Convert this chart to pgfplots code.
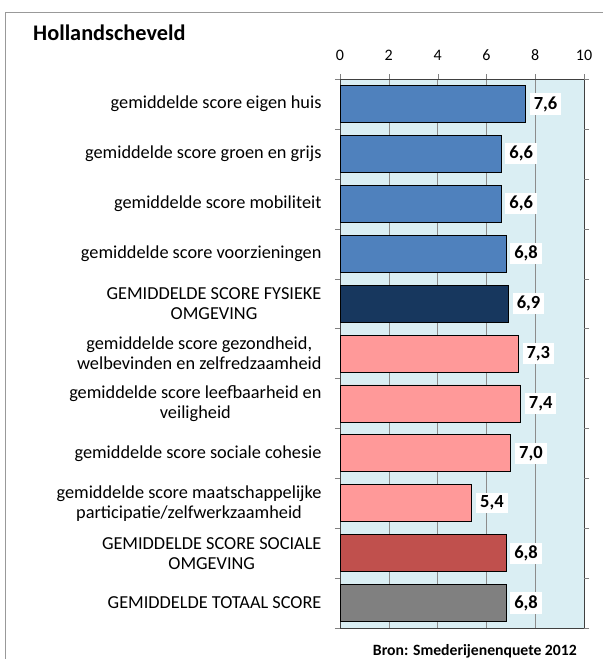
\documentclass[border=0pt]{standalone}
\usepackage{pgfplots}
\pgfplotsset{compat=1.18}
\usepackage{fontspec}
\setmainfont{Carlito}
\definecolor{bgblue}{HTML}{DAEEF3}
\definecolor{cblue}{HTML}{4F81BD}
\definecolor{cnavy}{HTML}{17375E}
\definecolor{cpink}{HTML}{FF9999}
\definecolor{cred}{HTML}{C0504D}
\definecolor{cgray}{HTML}{808080}
\begin{document}
\begin{tikzpicture}[x=1pt,y=1pt]
\useasboundingbox (0,0) rectangle (603,659);
\draw[gray!80,line width=0.8pt] (5,0) -- (5,647) -- (603,647);
\node[anchor=base west,font=\fontsize{22.3}{26}\selectfont\bfseries,inner sep=0pt] at (33,618) {Hollandscheveld};
\node[anchor=base east,font=\fontsize{15.7}{18}\selectfont\bfseries,inner sep=0pt] at (577,4) {Bron: Smederijenenquete 2012};
\begin{axis}[
  at={(340pt,31pt)}, anchor=south west,
  width=244pt, height=549pt, scale only axis,
  xbar, bar width=37pt, bar shift=0pt,
  xmin=0, xmax=10, ymin=-0.5, ymax=10.5,
  y dir=reverse,
  xtick={0,2,...,10},
  xticklabel pos=upper,
  xtick pos=upper,
  tick align=outside,
  major tick length=5pt,
  xmajorgrids,
  grid style={gray!90, line width=0.6pt},
  axis background/.style={fill=bgblue},
  axis line style={black!75},
  tick style={gray},
  ytick={0,...,10},
  ytick style={draw=none},
  yticklabels={
    gemiddelde score eigen huis,
    gemiddelde score groen en grijs,
    gemiddelde score mobiliteit,
    gemiddelde score voorzieningen,
    {GEMIDDELDE SCORE FYSIEKE\\OMGEVING},
    {gemiddelde score gezondheid,\\welbevinden en zelfredzaamheid},
    {gemiddelde score leefbaarheid en\\veiligheid},
    gemiddelde score sociale cohesie,
    {gemiddelde score maatschappelijke\\participatie/zelfwerkzaamheid},
    {GEMIDDELDE SCORE SOCIALE\\OMGEVING},
    GEMIDDELDE TOTAAL SCORE},
  yticklabel style={align=center, font=\fontsize{18.3}{20}\selectfont, xshift=-10pt},
  xticklabel style={font=\fontsize{16}{18}\selectfont, yshift=10pt},
  extra y ticks={-0.5,0.5,...,10.5},
  extra y tick labels={},
  extra y tick style={ytick style={draw=gray}, major tick length=5pt, grid=none},
  /pgf/number format/assume math mode=true,
  nodes near coords,
  nodes near coords style={font=\fontsize{18.5}{20}\selectfont\bfseries, fill=white, inner xsep=4pt, inner ysep=3pt, anchor=west, xshift=4pt,
    /pgf/number format/.cd, use comma, fixed, fixed zerofill, precision=1},
  every axis plot/.append style={draw=black, line width=0.8pt},
]
\addplot[fill=cblue] coordinates {(7.6,0) (6.6,1) (6.6,2) (6.8,3)};
\addplot[fill=cnavy] coordinates {(6.9,4)};
\addplot[fill=cpink] coordinates {(7.3,5) (7.4,6) (7.0,7) (5.4,8)};
\addplot[fill=cred] coordinates {(6.8,9)};
\addplot[fill=cgray] coordinates {(6.8,10)};
\end{axis}
\end{tikzpicture}
\end{document}
